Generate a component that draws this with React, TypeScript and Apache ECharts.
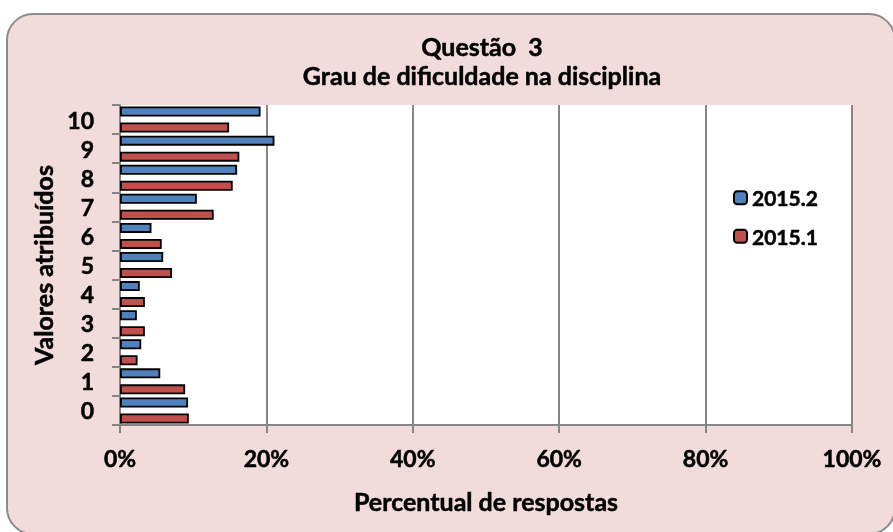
import React, { useEffect, useRef } from "react";
import * as echarts from "echarts";

const categories = ["0", "1", "2", "3", "4", "5", "6", "7", "8", "9", "10"];
const series20152 = [9.3, 5.5, 2.9, 2.3, 2.7, 5.9, 4.3, 10.5, 16.0, 21.1, 19.2];
const series20151 = [9.4, 8.9, 2.4, 3.4, 3.4, 7.1, 5.7, 12.8, 15.4, 16.3, 14.9];
const seriesNames = ["2015.2", "2015.1"];
const titleLines = ["Questão  3", "Grau de dificuldade na disciplina"];
const xAxisName = "Percentual de respostas";
const yAxisName = "Valores atribuídos";

const FONT = "Lato, 'Noto Sans', sans-serif";

export default function App() {
  const ref = useRef<HTMLDivElement>(null);
  useEffect(() => {
    const chart = echarts.init(ref.current!, null, { renderer: "svg" });
    const gray = "#868686";
    const textBase = {
      fontFamily: FONT,
      fontWeight: "bold" as const,
      color: "#000",
      textBorderColor: "#000",
      textBorderWidth: 0.5,
    };
    const titleStyle = (text: string) => ({
      text,
      fontFamily: FONT,
      fontWeight: "bold",
      fontSize: 25,
      fill: "#000",
      stroke: "#000",
      lineWidth: 0.5,
      align: "center",
      verticalAlign: "middle",
    });
    chart.setOption({
      animation: false,
      backgroundColor: "transparent",
      graphic: [
        {
          type: "rect",
          z: -10,
          silent: true,
          shape: { x: 7, y: 14, width: 888, height: 520, r: 26 },
          style: { fill: "#F2DCDB", stroke: "#8C8C8C", lineWidth: 2 },
        },
        { type: "text", x: 482, y: 46, style: titleStyle(titleLines[0]) },
        { type: "text", x: 482, y: 75, style: titleStyle(titleLines[1]) },
      ],
      grid: {
        left: 120,
        top: 105,
        width: 732,
        height: 320,
        show: true,
        backgroundColor: "#fff",
        borderWidth: 0,
        containLabel: false,
      },
      legend: {
        orient: "vertical",
        left: 728,
        top: 182,
        itemWidth: 13,
        itemHeight: 13,
        itemGap: 17,
        data: seriesNames,
        textStyle: { ...textBase, fontSize: 21 },
      },
      xAxis: {
        type: "value",
        min: 0,
        max: 100,
        interval: 20,
        name: xAxisName,
        nameLocation: "middle",
        nameGap: 63,
        nameTextStyle: { ...textBase, fontSize: 25 },
        axisLine: { show: true, lineStyle: { color: gray, width: 2 } },
        axisTick: { show: true, length: 8, lineStyle: { color: gray, width: 2 } },
        splitLine: { show: true, lineStyle: { color: gray, width: 2 } },
        axisLabel: { ...textBase, fontSize: 23, margin: 21, formatter: "{value}%" },
      },
      yAxis: {
        type: "category",
        data: categories,
        name: yAxisName,
        nameLocation: "middle",
        nameGap: 62,
        nameTextStyle: { ...textBase, fontSize: 25 },
        axisLine: { show: true, lineStyle: { color: gray, width: 2 } },
        axisTick: { show: true, length: 8, interval: 0, lineStyle: { color: gray, width: 2 } },
        axisLabel: { ...textBase, fontSize: 23, margin: 26, interval: 0 },
        splitLine: { show: false },
      },
      series: [
        {
          name: seriesNames[0],
          type: "bar",
          data: series20152,
          barWidth: 10,
          barGap: "60%",
          itemStyle: { color: "#4F81BD", borderColor: "#000", borderWidth: 1.8 },
        },
        {
          name: seriesNames[1],
          type: "bar",
          data: series20151,
          barWidth: 10,
          barGap: "60%",
          itemStyle: { color: "#C0504D", borderColor: "#000", borderWidth: 1.8 },
        },
      ],
    });
    return () => chart.dispose();
  }, []);
  return (
    <div
      ref={ref}
      style={{ position: "fixed", left: 0, top: 0, width: 893, height: 532 }}
    />
  );
}
